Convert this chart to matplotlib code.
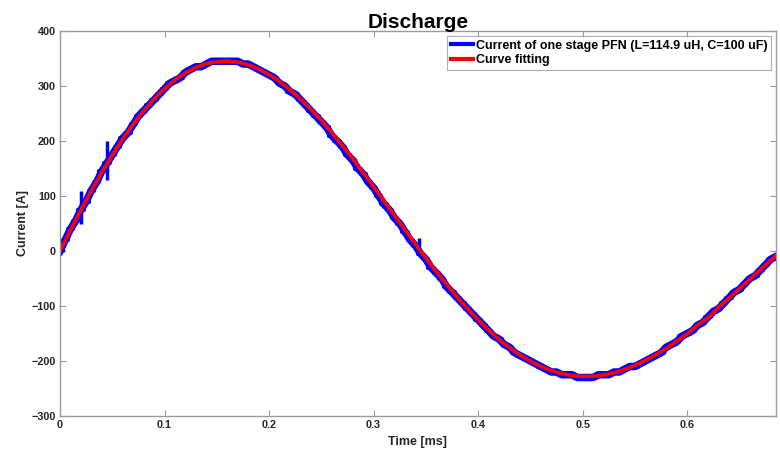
import numpy as np
import matplotlib
matplotlib.use("Agg")
import matplotlib.pyplot as plt

plt.rcParams['font.family'] = ['Liberation Sans', 'DejaVu Sans']

# Measured current (blue), sampled every 0.005 ms
meas_t_step = 0.005
meas_i = [0, 20, 40, 55, 75, 90, 110, 125, 145, 160,
          175, 190, 205, 215, 230, 245, 255, 265, 275, 285,
          295, 305, 310, 315, 325, 330, 335, 335, 340, 345,
          345, 345, 345, 345, 345, 340, 340, 335, 330, 325,
          320, 315, 305, 300, 290, 285, 275, 265, 255, 245,
          235, 225, 210, 200, 190, 175, 165, 150, 140, 125,
          115, 100, 85, 75, 60, 50, 35, 20, 10, -5,
          -15, -30, -40, -50, -65, -75, -85, -95, -105, -115,
          -125, -135, -145, -155, -160, -170, -175, -185, -190, -195,
          -200, -205, -210, -215, -220, -220, -225, -225, -225, -230,
          -230, -230, -230, -225, -225, -225, -220, -220, -215, -210,
          -210, -205, -200, -195, -190, -185, -175, -170, -165, -155,
          -150, -145, -135, -130, -120, -110, -105, -95, -85, -75,
          -70, -60, -50, -45, -35, -25, -15, -10]
# Noise spikes in the measured current
spike_t = [0.0, 0.020, 0.045, 0.343]
spike_lo = [-8, 50, 130, 2]
spike_hi = [10, 110, 200, 24]

# Fitted curve (red), sampled every 0.01 ms
fit_t_step = 0.01
fit_i = [0, 37.8, 74.4, 109.6, 142.9, 174.3, 203.6, 230.4, 254.6, 276.2,
         294.9, 310.8, 323.6, 333.7, 340.5, 344.3, 345.3, 343.3, 338.5, 331.0,
         320.8, 308.4, 293.4, 276.7, 257.8, 237.3, 215.4, 192.0, 167.8, 142.5,
         117.2, 90.8, 64.9, 38.6, 12.7, -12.6, -37.3, -61.0, -83.8, -105.0,
         -125.2, -143.6, -160.7, -175.7, -189.0, -200.3, -209.9, -217.4, -223.1, -226.5,
         -228.1, -227.8, -225.5, -221.5, -215.5, -208.1, -199.2, -188.6, -177.3, -163.8,
         -151.0, -134.8, -121.6, -102.7, -85.9, -68.7, -51.4, -34.1, -16.9, 0.0]

x_ticks = [0, 0.1, 0.2, 0.3, 0.4, 0.5, 0.6]
x_ticklabels = ['0', '0.1', '0.2', '0.3', '0.4', '0.5', '0.6']
y_ticks = [-300, -200, -100, 0, 100, 200, 300, 400]

meas_t = np.arange(len(meas_i)) * meas_t_step
fit_t = np.arange(len(fit_i)) * fit_t_step

fig = plt.figure(figsize=(7.8, 4.54), dpi=100)
ax = fig.add_axes([60/780, 1-416/454, (776-60)/780, (416-31)/454])

ax.plot(meas_t, meas_i, color='#0000ff', lw=5.4,
        label='Current of one stage PFN (L=114.9 uH, C=100 uF)')
ax.plot(meas_t, meas_i, color='#0000ff', lw=3.0, drawstyle='steps-mid')
ax.vlines(spike_t, spike_lo, spike_hi, color='#0000ff', lw=2.5)
ax.plot(fit_t, fit_i, color='#ff0000', lw=2.6, label='Curve fitting')

ax.set_xlim(0, 0.685)
ax.set_ylim(-300, 400)
ax.set_xticks(x_ticks)
ax.set_xticklabels(x_ticklabels)
ax.set_yticks(y_ticks)

spine_c = '#9a9a9a'
for s in ax.spines.values():
    s.set_color(spine_c)
    s.set_linewidth(1.0)
ax.tick_params(direction='in', length=4, width=0.8, color=spine_c,
               top=True, right=True, labelsize=7.8, labelcolor='#262626', pad=3)
for lab in ax.get_xticklabels() + ax.get_yticklabels():
    lab.set_fontweight('bold')

ax.set_title('Discharge', fontsize=15, fontweight='bold', color='#000000', pad=2,
             family=['Liberation Sans Narrow', 'Liberation Sans', 'DejaVu Sans'])
ax.set_xlabel('Time [ms]', fontsize=9, fontweight='bold', color='#262626', labelpad=4)
ax.set_ylabel('Current [A]', fontsize=9, fontweight='bold', color='#262626', labelpad=2)

leg = ax.legend(loc='upper right', prop={'weight': 'bold', 'size': 9},
                frameon=True, fancybox=False, borderpad=0.3, handlelength=1.8,
                handletextpad=0.2, labelspacing=0.2, borderaxespad=0.4)
leg.get_frame().set_edgecolor('#9a9a9a')
leg.get_frame().set_linewidth(0.8)
for line in leg.get_lines():
    line.set_linewidth(3)

fig.savefig('out.png', dpi=100, facecolor='white')
